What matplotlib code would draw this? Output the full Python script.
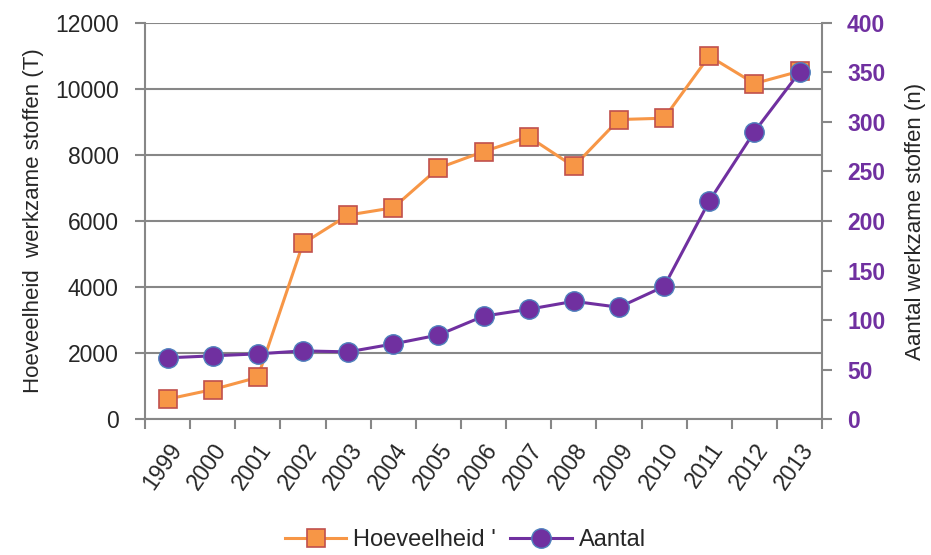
import matplotlib.pyplot as plt

# data
years = ['1999', '2000', '2001', '2002', '2003', '2004', '2005', '2006',
         '2007', '2008', '2009', '2010', '2011', '2012', '2013']
hoeveelheid = [610, 900, 1270, 5320, 6180, 6400, 7600, 8100,
               8550, 7650, 9070, 9110, 10990, 10160, 10530]
aantal = [62, 64, 66, 69, 68, 76, 85, 104, 111, 119, 113, 134, 220, 290, 350]

orange = '#F79646'
orange_edge = '#C0504D'
purple = '#7030A0'
purple_edge = '#4F81BD'
grid_grey = '#878787'
text_col = '#262626'

plt.rcParams['font.family'] = ['Liberation Sans', 'DejaVu Sans']

fig = plt.figure(figsize=(9.31, 5.55), dpi=100)
ax = fig.add_axes([0.1557, 0.2445, 0.7273, 0.7146])
ax2 = ax.twinx()

x = list(range(len(years)))

l1, = ax.plot(x, hoeveelheid, color=orange, lw=2.2, marker='s', ms=13.5,
              mfc=orange, mec=orange_edge, mew=1.2, zorder=3)
l2, = ax2.plot(x, aantal, color=purple, lw=2.2, marker='o', ms=14,
               mfc=purple, mec=purple_edge, mew=1.0, zorder=3)

# linker as
ax.set_ylim(0, 12000)
ax.set_yticks(range(0, 12001, 2000))
ax.set_xlim(-0.5, len(years) - 0.5)
ax.set_xticks([i - 0.5 for i in range(len(years) + 1)])
ax.set_xticklabels([])
ax.set_xticks(x, minor=True)
ax.set_xticklabels(years, minor=True, rotation=55, ha='right',
                   rotation_mode='anchor', fontsize=16.5, color=text_col)
ax.tick_params(axis='x', which='minor', length=0, pad=14)
ax.tick_params(axis='x', which='major', length=7, width=1.5, color=grid_grey)
ax.tick_params(axis='y', length=7, width=1.5, color=grid_grey, pad=12,
               labelsize=16.5, labelcolor=text_col)
ax.grid(axis='y', color=grid_grey, lw=1.5)
ax.set_axisbelow(True)
for s in ['top', 'right']:
    ax.spines[s].set_visible(False)
for s in ['left', 'bottom']:
    ax.spines[s].set_color(grid_grey)
    ax.spines[s].set_linewidth(1.5)
ax.set_ylabel('Hoeveelheid  werkzame stoffen (T)', fontsize=16,
              color=text_col, labelpad=8)

# rechter as
ax2.set_ylim(0, 400)
ax2.set_yticks(range(0, 401, 50))
ax2.tick_params(axis='y', length=7, width=1.5, color=grid_grey, pad=11,
                labelsize=16.5, labelcolor=purple)
for t in ax2.get_yticklabels():
    t.set_fontweight('bold')
for s in ['top', 'left', 'bottom']:
    ax2.spines[s].set_visible(False)
ax2.spines['right'].set_color(grid_grey)
ax2.spines['right'].set_linewidth(1.5)
ax2.set_ylabel('Aantal werkzame stoffen (n)', fontsize=16, color=text_col,
               labelpad=14)

fig.legend([l1, l2], ["Hoeveelheid '", 'Aantal'], loc='center',
           bbox_to_anchor=(0.50, 1 - 540 / 555), ncol=2, frameon=False,
           fontsize=17, handlelength=2.6, columnspacing=0.6,
           handletextpad=0.3, labelcolor=text_col)

fig.savefig('out.png', dpi=100)
